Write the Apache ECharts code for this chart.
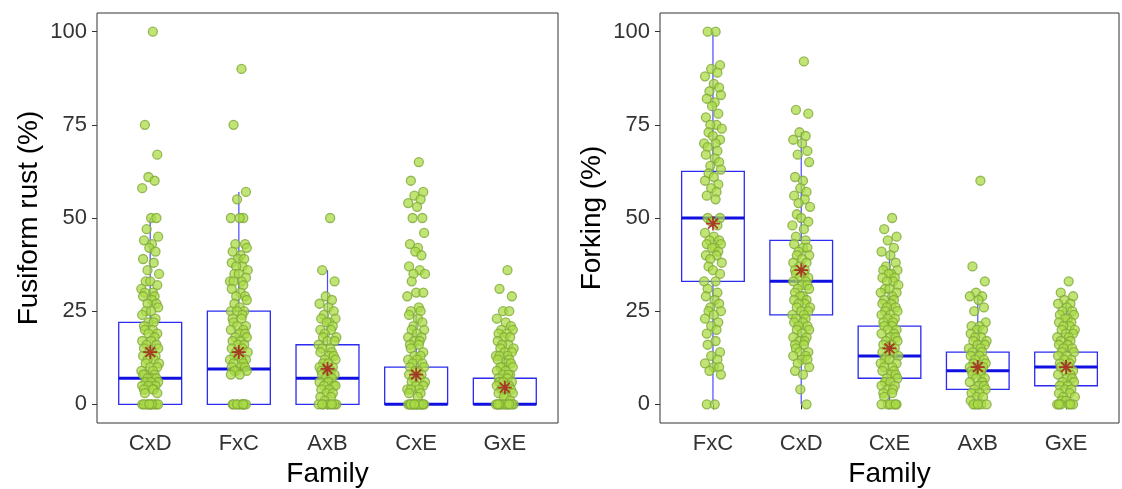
<!DOCTYPE html>
<html>
<head>
<meta charset="utf-8">
<title>Fusiform rust and forking by family</title>
<script src="https://cdn.jsdelivr.net/npm/echarts@6/dist/echarts.min.js"></script>
<style>
  html, body { margin: 0; padding: 0; background: #ffffff; }
  #chart { width: 1122px; height: 489px; }
</style>
</head>
<body>
<div id="chart"></div>
<script>
// ---------- Fusiform rust (%) by family ----------
const rustFamilies = ['CxD', 'FxC', 'AxB', 'CxE', 'GxE'];
// [lower whisker, Q1, median, Q3, upper whisker]
const rustBoxStats = [
  [0, 0, 7, 22, 50],
  [0, 0, 9.5, 25, 57],
  [0, 0, 7, 16, 36],
  [0, 0, 0, 10, 24],
  [0, 0, 0, 7, 17]
];
const rustMeans = [14, 14, 9.5, 8, 4.5];
const rustCxD = [100, 75, 67, 61, 60, 58, 50, 50, 47, 45, 44, 43, 42, 41, 39, 38, 36, 35, 33, 33, 32, 31, 30, 30,
  29, 29, 28, 27, 27, 26, 25, 25, 24, 23, 22, 22, 21, 20, 20, 19, 19, 18, 17, 17, 16, 16, 15, 15, 14, 14, 13, 13,
  12, 12, 11, 11, 10, 10, 9, 9, 8, 8, 8, 7, 7, 7, 6, 6, 6, 5, 5, 5, 4, 4, 4, 3, 3,
  0, 0, 0, 0, 0, 0, 0, 0, 0, 0];
const rustFxC = [90, 75, 57, 55, 50, 50, 50, 43, 43, 42, 41, 40, 39, 39, 38, 37, 37, 36, 35, 35, 34, 33, 33, 33,
  32, 31, 30, 29, 29, 28, 27, 26, 25, 25, 25, 24, 23, 23, 22, 21, 21, 20, 20, 19, 19, 18, 18, 17, 17, 16, 16, 15,
  15, 14, 14, 13, 13, 12, 12, 12, 11, 11, 10, 10, 10, 9, 9, 9, 8, 8,
  0, 0, 0, 0, 0, 0, 0, 0, 0];
const rustAxB = [50, 36, 33, 29, 28, 27, 26, 25, 24, 23, 23, 22, 22, 21, 20, 20, 19, 18, 18, 17, 17, 16, 15, 15,
  14, 14, 13, 13, 12, 12, 11, 11, 10, 10, 9, 9, 9, 8, 8, 8, 7, 7, 6, 6, 5, 5, 5, 4, 4, 3, 3, 2, 2, 1,
  0, 0, 0, 0, 0, 0, 0, 0];
const rustCxE = [65, 60, 57, 56, 55, 54, 53, 50, 50, 46, 43, 42, 41, 40, 37, 36, 35, 35, 33, 30, 30, 29, 26, 25,
  25, 24, 23, 22, 21, 20, 20, 19, 18, 18, 17, 17, 16, 16, 15, 14, 13, 13, 12, 12, 11, 11, 10, 10, 9, 9, 8, 8,
  7, 7, 6, 6, 5, 5, 4, 4, 4, 3, 3, 2,
  0, 0, 0, 0, 0, 0, 0, 0, 0, 0, 0, 0, 0, 0];
const rustGxE = [36, 31, 29, 25, 25, 23, 22, 21, 20, 20, 19, 19, 18, 18, 17, 16, 16, 15, 15, 14, 14, 13, 13, 13,
  12, 12, 11, 11, 10, 10, 10, 9, 9, 8, 8, 8, 7, 7, 6, 6, 6, 5, 5, 4, 4, 4, 3, 3, 2, 2, 1,
  0, 0, 0, 0, 0, 0, 0, 0, 0, 0, 0, 0];
const rustValues = [rustCxD, rustFxC, rustAxB, rustCxE, rustGxE];

// ---------- Forking (%) by family ----------
const forkFamilies = ['FxC', 'CxD', 'CxE', 'AxB', 'GxE'];
const forkBoxStats = [
  [0, 33, 50, 62.5, 100],
  [0, 24, 33, 44, 73],
  [0, 7, 13, 21, 41],
  [0, 4, 9, 14, 29],
  [0, 5, 10, 14, 27]
];
const forkMeans = [48.5, 36, 15, 10, 10];
const forkFxC = [100, 100, 91, 90, 89, 88, 86, 85, 84, 83, 82, 81, 80, 78, 77, 75, 75, 74, 73, 72, 71, 70, 70, 69,
  68, 67, 66, 65, 64, 63, 62, 61, 60, 59, 58, 57, 56, 55, 50, 50, 49, 48, 46, 45, 44, 44, 43, 43, 42, 42, 41, 40,
  40, 39, 38, 37, 36, 35, 33, 33, 31, 30, 29, 28, 27, 26, 25, 25, 24, 23, 22, 21, 20, 19, 17, 16, 14, 13, 12, 11,
  10, 10, 9, 8, 0, 0];
const forkCxD = [92, 79, 78, 73, 72, 71, 70, 68, 67, 65, 61, 60, 58, 57, 56, 55, 54, 53, 51, 50, 49, 48, 47, 45,
  44, 43, 42, 42, 41, 40, 40, 39, 38, 38, 37, 36, 36, 35, 35, 34, 34, 33, 33, 32, 32, 31, 31, 30, 29, 29, 28, 28,
  27, 27, 26, 26, 25, 25, 24, 24, 23, 23, 22, 22, 21, 21, 20, 20, 19, 18, 18, 17, 17, 16, 16, 15, 14, 14, 13, 13,
  12, 12, 11, 10, 9, 8, 4, 0];
const forkCxE = [50, 47, 45, 44, 42, 41, 40, 38, 37, 36, 36, 35, 35, 34, 34, 33, 33, 32, 31, 31, 30, 30, 29, 28,
  28, 27, 27, 26, 26, 25, 25, 24, 24, 23, 23, 22, 22, 21, 21, 20, 20, 19, 19, 18, 18, 17, 17, 16, 16, 15, 15, 14,
  14, 13, 13, 12, 12, 11, 11, 10, 10, 9, 9, 8, 8, 7, 7, 6, 6, 5, 5, 4, 4, 3, 3, 2,
  0, 0, 0, 0, 0, 0];
const forkAxB = [60, 37, 33, 30, 29, 29, 28, 26, 25, 22, 21, 21, 20, 20, 19, 18, 18, 17, 17, 16, 16, 15, 15, 14,
  14, 13, 13, 12, 12, 11, 11, 10, 10, 10, 9, 9, 9, 8, 8, 7, 7, 6, 6, 5, 5, 4, 4, 3, 3, 2, 2, 1,
  0, 0, 0, 0, 0];
const forkGxE = [33, 30, 29, 28, 27, 27, 26, 25, 25, 24, 24, 23, 23, 22, 22, 21, 21, 20, 20, 19, 19, 18, 18, 17,
  17, 16, 16, 15, 15, 14, 14, 13, 13, 12, 12, 11, 11, 10, 10, 9, 9, 8, 8, 7, 7, 6, 6, 5, 5, 4, 4, 3, 3, 2, 2, 1, 1,
  0, 0, 0, 0, 0, 0];
const forkValues = [forkFxC, forkCxD, forkCxE, forkAxB, forkGxE];

const yTickValues = [0, 25, 50, 75, 100];
const familyPositions = [1, 2, 3, 4, 5];
// horizontal spread of the jittered points, in category units
const jitterOffsets = [0.03, -0.06, 0.08, -0.02, 0.05, -0.09, 0.01, 0.07, -0.04, 0.09, -0.07, 0.02, -0.01,
  0.06, -0.08, 0.04, -0.03, 0.10, -0.05, 0.00, 0.08, -0.10, 0.03, -0.06, 0.05, -0.08, 0.02, 0.07, -0.03,
  0.09, -0.05, 0.01, -0.09, 0.06, -0.02, 0.04, -0.07];

// ---------- styling ----------
const FONT = 'Liberation Sans, Arial, Helvetica, sans-serif';
const BOX_COLOR = '#2b2bf2';
const WHISKER_COLOR = '#4a4aff';
const BOX_HALF = 0.355;

function boxRows(stats) {
  return stats.map((s, i) => [familyPositions[i]].concat(s));
}
function pointRows(groups) {
  const rows = [];
  groups.forEach((vals, g) => {
    vals.forEach((v, k) => {
      rows.push([familyPositions[g] + jitterOffsets[k % jitterOffsets.length], v]);
    });
  });
  return rows;
}
function meanRows(means) {
  return means.map((m, i) => [familyPositions[i], m]);
}

function renderBox(params, api) {
  const x = api.value(0);
  const lo = api.value(1), q1 = api.value(2), med = api.value(3), q3 = api.value(4), hi = api.value(5);
  const top = api.coord([x, hi]);
  const upper = api.coord([x, q3]);
  const lower = api.coord([x, q1]);
  const bottom = api.coord([x, lo]);
  const boxTL = api.coord([x - BOX_HALF, q3]);
  const boxBR = api.coord([x + BOX_HALF, q1]);
  const medL = api.coord([x - BOX_HALF, med]);
  const medR = api.coord([x + BOX_HALF, med]);
  return {
    type: 'group',
    children: [
      { type: 'line', shape: { x1: top[0], y1: top[1], x2: upper[0], y2: upper[1] },
        style: { stroke: WHISKER_COLOR, lineWidth: 1.2 } },
      { type: 'line', shape: { x1: lower[0], y1: lower[1], x2: bottom[0], y2: bottom[1] },
        style: { stroke: WHISKER_COLOR, lineWidth: 1.2 } },
      { type: 'rect', shape: { x: boxTL[0], y: boxTL[1], width: boxBR[0] - boxTL[0], height: boxBR[1] - boxTL[1] },
        style: { fill: 'rgba(0,0,0,0)', stroke: BOX_COLOR, lineWidth: 1.3 } },
      { type: 'line', shape: { x1: medL[0], y1: medL[1], x2: medR[0], y2: medR[1] },
        style: { stroke: '#1010e0', lineWidth: 3 } }
    ]
  };
}

function xAxisFor(gridIndex, families) {
  return {
    gridIndex: gridIndex,
    type: 'value',
    min: 0.4,
    max: 5.6,
    name: 'Family',
    nameLocation: 'middle',
    nameGap: 37,
    nameTextStyle: { fontFamily: FONT, fontSize: 28, color: '#000' },
    axisLine: { show: false },
    splitLine: { show: false },
    axisTick: { show: true, customValues: familyPositions, length: 5, lineStyle: { color: '#333', width: 1 } },
    axisLabel: {
      customValues: familyPositions,
      formatter: v => families[Math.round(v) - 1],
      fontFamily: FONT, fontSize: 22, color: '#333', margin: 10
    }
  };
}
function yAxisFor(gridIndex, title) {
  return {
    gridIndex: gridIndex,
    type: 'value',
    min: -5,
    max: 105,
    name: title,
    nameLocation: 'middle',
    nameGap: 54,
    nameRotate: 90,
    nameTextStyle: { fontFamily: FONT, fontSize: 28, color: '#000' },
    axisLine: { show: false },
    splitLine: { show: false },
    axisTick: { show: true, customValues: yTickValues, length: 5, lineStyle: { color: '#333', width: 1 } },
    axisLabel: { customValues: yTickValues, fontFamily: FONT, fontSize: 22, color: '#333', margin: 10 }
  };
}

const asterisk = 'path://M0,-10 L0,10 M-10,0 L10,0 M-7.07,-7.07 L7.07,7.07 M-7.07,7.07 L7.07,-7.07';

function panelSeries(idx, stats, groups, means) {
  return [
    { type: 'custom', xAxisIndex: idx, yAxisIndex: idx, renderItem: renderBox, data: boxRows(stats), z: 2, silent: true },
    { type: 'scatter', xAxisIndex: idx, yAxisIndex: idx, data: pointRows(groups), symbol: 'circle', symbolSize: 9,
      itemStyle: { color: 'rgba(170,220,68,0.92)', borderColor: '#7fa83a', borderWidth: 1.3 }, z: 3, silent: true },
    { type: 'scatter', xAxisIndex: idx, yAxisIndex: idx, data: meanRows(means), symbol: asterisk, symbolSize: 14,
      itemStyle: { color: 'rgba(0,0,0,0)', borderColor: '#a8181c', borderWidth: 1.8 }, z: 4, silent: true }
  ];
}

const chart = echarts.init(document.getElementById('chart'), null, { renderer: 'canvas' });
chart.setOption({
  animation: false,
  backgroundColor: '#ffffff',
  grid: [
    { left: 97, top: 13, width: 461, height: 410, show: true, borderColor: '#333', borderWidth: 1,
      backgroundColor: '#ffffff', containLabel: false, outerBoundsMode: 'none' },
    { left: 660, top: 13, width: 459, height: 410, show: true, borderColor: '#333', borderWidth: 1,
      backgroundColor: '#ffffff', containLabel: false, outerBoundsMode: 'none' }
  ],
  xAxis: [xAxisFor(0, rustFamilies), xAxisFor(1, forkFamilies)],
  yAxis: [yAxisFor(0, 'Fusiform rust (%)'), yAxisFor(1, 'Forking (%)')],
  series: panelSeries(0, rustBoxStats, rustValues, rustMeans)
    .concat(panelSeries(1, forkBoxStats, forkValues, forkMeans))
});
</script>
</body>
</html>
